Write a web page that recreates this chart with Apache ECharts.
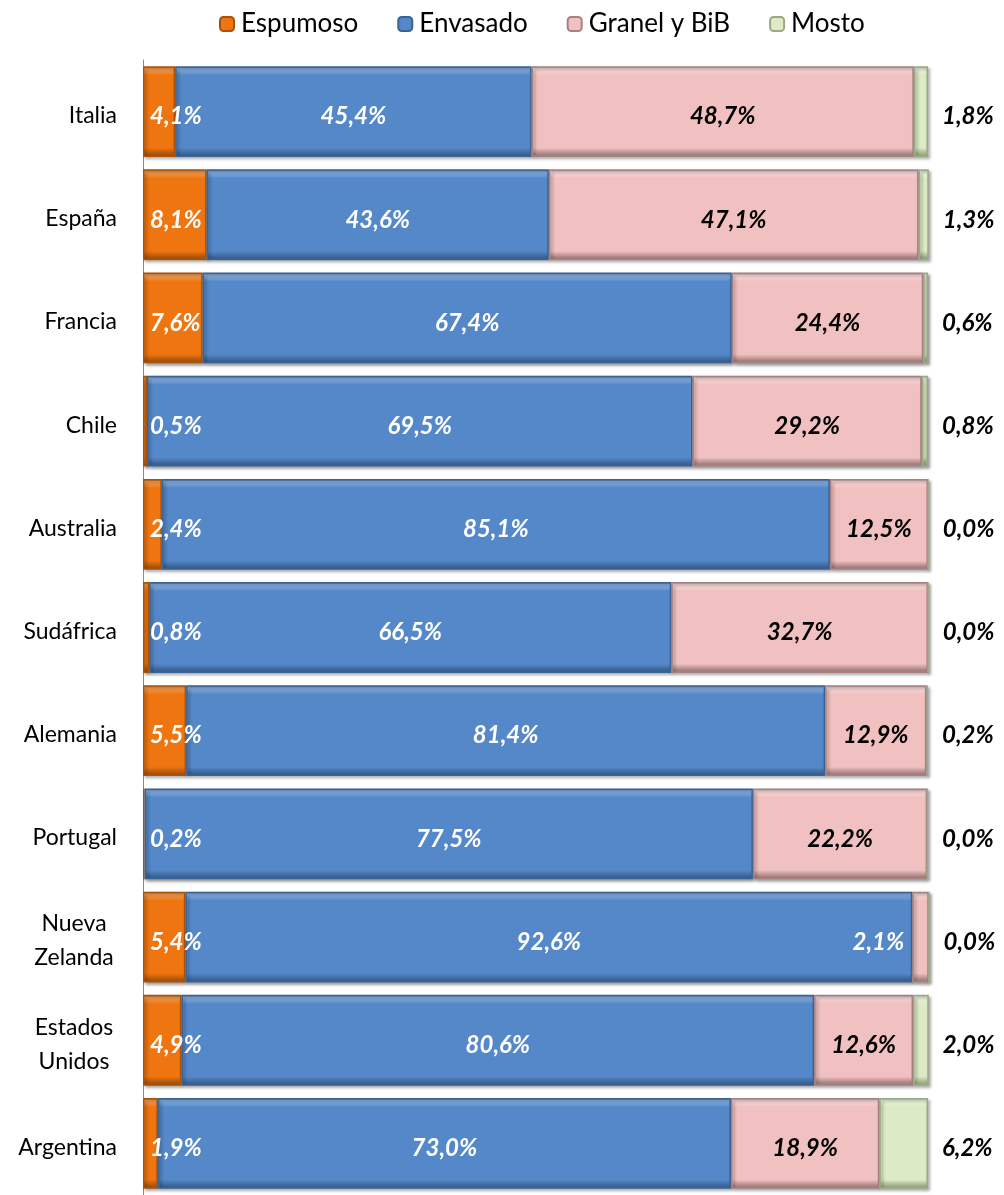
<!DOCTYPE html>
<html>
<head>
<meta charset="utf-8">
<script src="https://cdn.jsdelivr.net/npm/echarts@6/dist/echarts.min.js"></script>
<style>
  html, body { margin: 0; padding: 0; background: #fff; }
  #chart { width: 1004px; height: 1195px; }
</style>
</head>
<body>
<div id="chart"></div>
<script>
// Reparto de exportaciones por tipo de producto (% del total de cada país)
const paises = ['Italia', 'España', 'Francia', 'Chile', 'Australia', 'Sudáfrica',
  'Alemania', 'Portugal', 'Nueva\nZelanda', 'Estados\nUnidos', 'Argentina'];
const espumoso = [4.1, 8.1, 7.6, 0.5, 2.4, 0.8, 5.5, 0.2, 5.4, 4.9, 1.9];
const envasado = [45.4, 43.6, 67.4, 69.5, 85.1, 66.5, 81.4, 77.5, 92.6, 80.6, 73.0];
const granel = [48.7, 47.1, 24.4, 29.2, 12.5, 32.7, 12.9, 22.2, 2.1, 12.6, 18.9];
const mosto = [1.8, 1.3, 0.6, 0.8, 0.0, 0.0, 0.2, 0.0, 0.0, 2.0, 6.2];

const fmt = p => p.value.toFixed(1).replace('.', ',') + '%';
const FONT = 'Lato';

// Relleno con efecto biselado: franja clara arriba, base y borde inferior oscuro
function bevel(light, base, dark) {
  return {
    type: 'linear', x: 0, y: 0, x2: 0, y2: 1,
    colorStops: [
      { offset: 0, color: dark },
      { offset: 0.03, color: light },
      { offset: 0.1, color: base },
      { offset: 0.9, color: base },
      { offset: 0.97, color: dark },
      { offset: 1, color: dark }
    ]
  };
}

const labelBase = {
  show: true,
  formatter: fmt,
  fontFamily: FONT,
  fontSize: 24,
  fontWeight: 'bold',
  fontStyle: 'italic',
  offset: [0, 5]
};

function serie(name, values, light, base, dark, label) {
  return {
    name: name,
    type: 'bar',
    stack: 'total',
    barCategoryGap: '12%',
    data: values,
    clip: false,
    itemStyle: {
      color: bevel(light, base, dark),
      borderColor: dark,
      borderWidth: 1.5,
      shadowColor: 'rgba(0,0,0,0.35)',
      shadowBlur: 3,
      shadowOffsetX: 2,
      shadowOffsetY: 2
    },
    label: Object.assign({}, labelBase, label)
  };
}

// Valores de granel muy pequeños: etiqueta en blanco sobre la barra de envasado
const granelData = granel.map(v => v < 5
  ? { value: v, label: { position: 'left', distance: 8, color: '#fff' } }
  : v);

// Nombres de dos líneas: cada línea centrada dentro del bloque alineado a la derecha
function paisLabel(name) {
  if (name.indexOf('\n') < 0) return name;
  return name.split('\n').map(l => '{c|' + l + '}').join('\n');
}

const chart = echarts.init(document.getElementById('chart'), null, { renderer: 'canvas' });
chart.setOption({
  animation: false,
  backgroundColor: '#fff',
  legend: {
    top: 6,
    left: 214,
    itemWidth: 14,
    itemHeight: 14,
    itemGap: 39,
    textStyle: { fontFamily: FONT, fontSize: 26, color: '#000', padding: [0, 0, 0, 2] },
    data: ['Espumoso', 'Envasado', 'Granel y BiB', 'Mosto']
  },
  grid: { left: 143, top: 60, width: 785, height: 1142, containLabel: false },
  xAxis: { type: 'value', min: 0, max: 100, show: false },
  yAxis: {
    type: 'category',
    data: paises,
    inverse: true,
    axisLine: { show: true, lineStyle: { color: '#8a8a8a', width: 1 } },
    axisTick: { show: false },
    axisLabel: {
      fontFamily: FONT, fontSize: 23, color: '#000', margin: 26,
      lineHeight: 34, align: 'right', padding: [8, 0, 0, 0],
      formatter: paisLabel,
      rich: { c: { fontFamily: FONT, fontSize: 23, color: '#000', width: 86, align: 'center', lineHeight: 34 } }
    }
  },
  series: [
    serie('Espumoso', espumoso, '#F7A25A', '#EE750F', '#A9530A',
      { position: 'insideLeft', distance: 7, color: '#fff' }),
    serie('Envasado', envasado, '#8DB3E4', '#5588C8', '#3A6295',
      { position: 'inside', color: '#fff' }),
    serie('Granel y BiB', granelData, '#F9DCDC', '#F1C0C0', '#A68181',
      { position: 'inside', color: '#000' }),
    serie('Mosto', mosto, '#EEF6E3', '#DCEAC5', '#9CAA84',
      { position: 'right', distance: 14, color: '#000' })
  ]
});
</script>
</body>
</html>
